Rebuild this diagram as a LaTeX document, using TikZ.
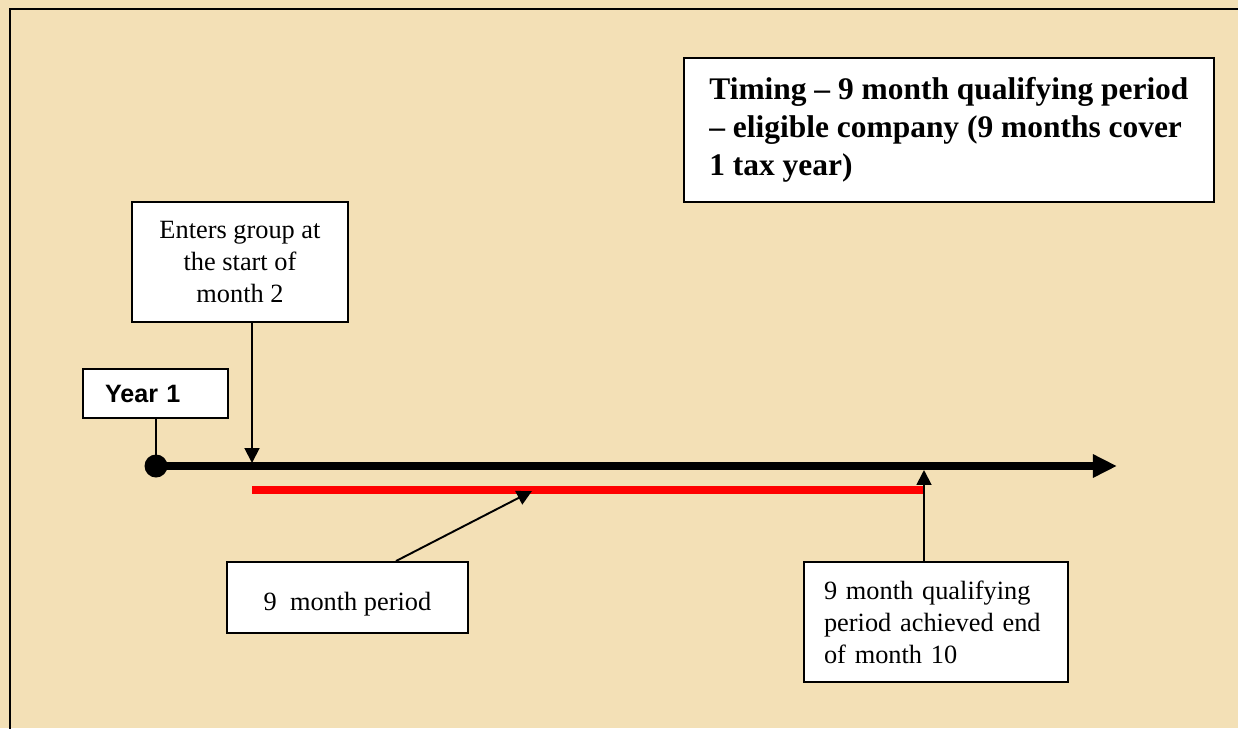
\documentclass[tikz,border=0pt]{standalone}
\usepackage{fontspec}
\setmainfont{Liberation Serif}
\newfontfamily\yearfont{Liberation Sans}
\usetikzlibrary{arrows.meta}
\definecolor{paper}{RGB}{243,224,182}

\begin{document}
\begin{tikzpicture}[x=0.02cm, y=-0.02cm,
  every node/.style={font=\fontsize{15}{18.2}\selectfont},
  box/.style={draw, line width=1.1pt, fill=white, inner sep=0pt},
  conn/.style={line width=1.1pt, -{Triangle[length=8.5pt,width=8.5pt]}}]
  % Background and frame
  \fill[paper] (0,0) rectangle (1238,728);
  \useasboundingbox (0,0) rectangle (1238,728);
  \draw[line width=1.4pt] (10,740) -- (10,9) -- (1250,9);

  % Title
  \node[box, anchor=west, minimum width=10.6cm, minimum height=2.88cm, inner xsep=0.42cm, align=left,
    font=\bfseries\fontsize{17.9}{21.5}\selectfont] (title) at (683,130)
    {Timing – 9 month qualifying period\\ – eligible company (9 months cover\\ 1 tax year)};

  % Boxes
  \node[box, minimum width=4.32cm, minimum height=2.4cm, align=center] (enters) at (240,262)
    {Enters group at\\ the start of\\ month 2};
  \node[box, minimum width=2.9cm, minimum height=0.98cm, text width=2.02cm,
    font=\yearfont\bfseries\fontsize{14.3}{17}\selectfont] (year) at (155.5,393.5) {Year 1};
  \node[box, minimum width=4.82cm, minimum height=1.42cm, text height=15pt, text depth=0pt] (period) at (347.5,597.5)
    {9\ \ month period};
  \node[box, minimum width=5.28cm, minimum height=2.4cm, text width=4.48cm, align=left] (qual) at (936,622)
    {9 month qualifying\\ period achieved end\\ of month 10};

  % Timeline
  \coordinate (origin) at (156,466);
  \coordinate (axisend) at (1117,466);
  \coordinate (entry) at (252,463);
  \coordinate (achieved) at (924,470);
  \coordinate (redstart) at (252,490);
  \coordinate (redend) at (925,490);
  \coordinate (periodpt) at (532,491);

  \draw[line width=4pt, -{Triangle[length=13.7pt,width=12.5pt]}] (origin) -- (axisend);
  \fill (origin) circle[radius=0.23cm];
  \draw[red, line width=4pt] (redstart) -- (redend);

  % Pointers
  \draw[line width=1.1pt] (year.south -| origin) -- (origin);
  \draw[conn] (enters.south -| entry) -- (entry);
  \draw[conn] (period.north -| 396,0) -- (periodpt);
  \draw[conn] (qual.north -| achieved) -- (achieved);
\end{tikzpicture}
\end{document}
